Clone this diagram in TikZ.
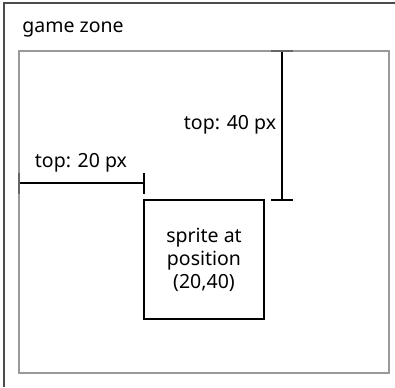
\documentclass[tikz,border=0pt]{standalone}
\usepackage{fontspec}
\setmainfont{Noto Sans}
\begin{document}
\begin{tikzpicture}[x=1pt,y=-1pt,
  lbl/.style={inner sep=0pt,font=\fontsize{19.5}{23}\selectfont},
  frameline/.style={draw=black!70,line width=2.2pt},
  zone/.style={draw=black!40,line width=1.8pt},
  measure/.style={draw=black,line width=1.4pt},
  tickgray/.style={draw=black!60,line width=2.8pt},
  tickblack/.style={draw=black,line width=2.8pt},
  spritebox/.style={draw=black,line width=1.4pt,minimum width=120pt,minimum height=119pt,inner sep=0pt,align=center,font=\fontsize{19.5}{23}\selectfont}]
\useasboundingbox (0,0) rectangle (395,387);
% outer frame (top and left only)
\coordinate (fa) at (4,387);
\coordinate (fb) at (4,3);
\coordinate (fc) at (395,3);
\draw[frameline] (fa) -- (fb) -- (fc);
\node[lbl] (title) at (73,30) {game zone};
% game zone rectangle
\coordinate (z1) at (19,51);
\coordinate (z2) at (389,373);
\draw[zone] (z1) rectangle (z2);
% sprite
\node[spritebox] (sprite) at (204,259.5) {sprite at\\position\\(20,40)};
% vertical measure
\coordinate (vt) at (282,51);
\coordinate (vb) at (282,200);
\draw[measure] (vt) -- (vb);
\draw[tickgray] ([xshift=-11pt]vt) -- ([xshift=11pt]vt);
\draw[tickblack] ([xshift=-11pt]vb) -- ([xshift=11pt]vb);
\node[lbl] (top40) at (230,125) {top: 40 px};
% horizontal measure
\coordinate (hl) at (19,183);
\coordinate (hr) at (144,183);
\draw[measure] (hl) -- (hr);
\draw[tickgray] ([yshift=-11pt]hl) -- ([yshift=10pt]hl);
\draw[tickblack] ([yshift=-11pt]hr) -- ([yshift=10pt]hr);
\node[lbl] (top20) at (81,163) {top: 20 px};
\end{tikzpicture}
\end{document}
